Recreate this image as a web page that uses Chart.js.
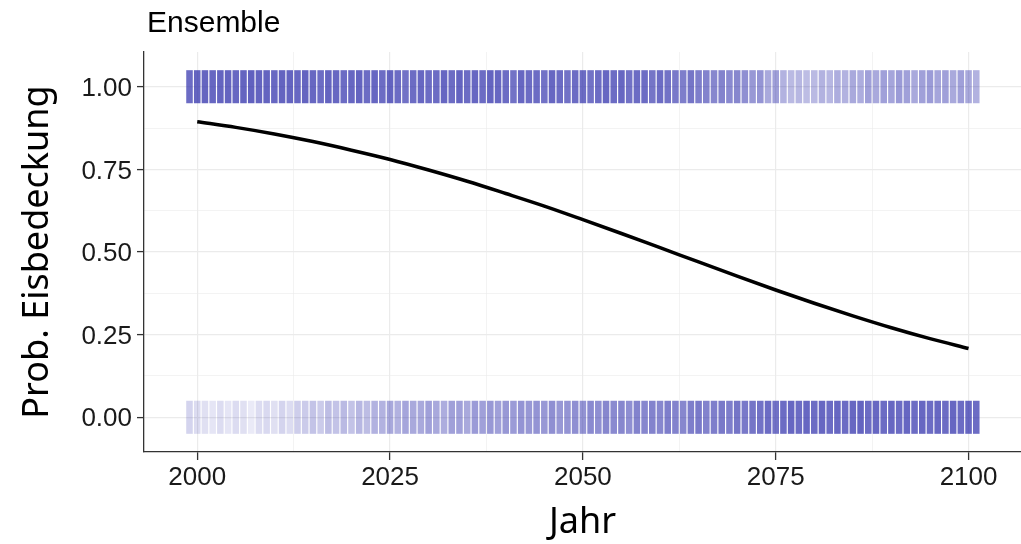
<!DOCTYPE html>
<html><head><meta charset="utf-8">
<script src="https://cdn.jsdelivr.net/npm/chart.js@4.4.1/dist/chart.umd.min.js"></script>
<style>html,body{margin:0;padding:0;background:#fff}</style>
</head><body>
<canvas id="c" width="1021" height="544"></canvas>
<script>
// ---- data ----
const years = [1999,2000,2001,2002,2003,2004,2005,2006,2007,2008,2009,2010,2011,2012,2013,2014,2015,2016,2017,2018,
2019,2020,2021,2022,2023,2024,2025,2026,2027,2028,2029,2030,2031,2032,2033,2034,2035,2036,2037,2038,
2039,2040,2041,2042,2043,2044,2045,2046,2047,2048,2049,2050,2051,2052,2053,2054,2055,2056,2057,2058,
2059,2060,2061,2062,2063,2064,2065,2066,2067,2068,2069,2070,2071,2072,2073,2074,2075,2076,2077,2078,
2079,2080,2081,2082,2083,2084,2085,2086,2087,2088,2089,2090,2091,2092,2093,2094,2095,2096,2097,2098,
2099,2100,2101];
// relative density of ensemble points with ice cover (y = 1)
const iceDensity = [0.85,0.9,0.9,0.88,0.9, 0.9,0.88,0.9,0.92,0.9, 0.9,0.88,0.9,0.9,0.88, 0.9,0.88,0.85,0.9,0.88,
0.85,0.88,0.9,0.85,0.88, 0.85,0.9,0.85,0.82,0.85, 0.88,0.85,0.85,0.88,0.85, 0.9,0.85,0.88,0.85,0.9,
0.88,0.85,0.82,0.88,0.85, 0.85,0.82,0.88,0.85,0.82, 0.85,0.85,0.82,0.85,0.88, 0.85,0.88,0.82,0.85,0.85,
0.8,0.85,0.82,0.78,0.75, 0.8,0.75,0.72,0.7,0.72, 0.68,0.7,0.65,0.6,0.62, 0.5,0.55,0.45,0.4,0.42,
0.38,0.4,0.45,0.42,0.48, 0.45,0.5,0.48,0.55,0.5, 0.55,0.52,0.58,0.55,0.5, 0.55,0.58,0.52,0.55,0.5,
0.55,0.5,0.45];
// relative density of ensemble points without ice cover (y = 0)
const openDensity = [0.25,0.2,0.18,0.15,0.2, 0.15,0.2,0.18,0.12,0.2, 0.22,0.18,0.25,0.2,0.28, 0.3,0.35,0.3,0.38,0.35,
0.4,0.35,0.42,0.38,0.45, 0.45,0.5,0.45,0.52,0.5, 0.5,0.55,0.5,0.48,0.55, 0.55,0.5,0.58,0.55,0.6,
0.55,0.6,0.58,0.62,0.6, 0.62,0.6,0.65,0.6,0.62, 0.65,0.62,0.68,0.65,0.7, 0.68,0.7,0.65,0.72,0.7,
0.72,0.7,0.75,0.72,0.7, 0.75,0.78,0.72,0.75,0.78, 0.75,0.8,0.78,0.8,0.82, 0.85,0.82,0.85,0.88,0.85,
0.88,0.85,0.88,0.85,0.88, 0.85,0.88,0.9,0.85,0.88, 0.85,0.88,0.85,0.88,0.85, 0.88,0.85,0.88,0.85,0.88,
0.85,0.88,0.85];
// fitted probability of ice cover
const curveYears = [2000,2005,2010,2015,2020,2025,2030,2035,2040,2045,2050,2055,2060,2065,2070,2075,2080,2085,2090,2095,2100];
const curveProb  = [0.894,0.877,0.857,0.834,0.808,0.780,0.748,0.714,0.677,0.639,0.598,0.556,0.513,0.470,0.427,0.385,0.345,0.307,0.271,0.238,0.208];
const xGridTicks = [2000,2012.5,2025,2037.5,2050,2062.5,2075,2087.5,2100];
const yGridTicks = [0,0.125,0.25,0.375,0.5,0.625,0.75,0.875,1];
const xMajor = [2000,2025,2050,2075,2100];
const yMajor = [0,0.25,0.5,0.75,1];

// ---- chart ----
const HALF = 0.05;
const bandColor = d => `rgba(45,45,170,${(d*0.82).toFixed(3)})`;
const isMajorX = v => xMajor.includes(v);
const isMajorY = v => yMajor.some(m => Math.abs(m - v) < 1e-9);

const titlePlugin = {
  id: 'panelTitle',
  afterDraw(chart) {
    const ctx = chart.ctx;
    ctx.save();
    ctx.font = '30px "Liberation Sans", Arial, sans-serif';
    ctx.fillStyle = '#000';
    ctx.textBaseline = 'alphabetic';
    ctx.textAlign = 'left';
    ctx.fillText('Ensemble', chart.chartArea.left + 3, 32);
    ctx.restore();
  }
};

new Chart(document.getElementById('c'), {
  type: 'bar',
  data: {
    datasets: [
      {
        type: 'line',
        order: 0,
        data: curveYears.map((x, i) => ({x, y: curveProb[i]})),
        borderColor: '#000',
        borderWidth: 3.5,
        pointRadius: 0,
        tension: 0.4,
        cubicInterpolationMode: 'monotone',
        fill: false
      },
      {
        order: 1,
        grouped: false,
        data: years.map(x => ({x, y: [1 - HALF, 1 + HALF]})),
        backgroundColor: iceDensity.map(bandColor),
        borderWidth: 0,
        barPercentage: 0.85,
        categoryPercentage: 1
      },
      {
        order: 1,
        grouped: false,
        data: years.map(x => ({x, y: [0 - HALF, 0 + HALF]})),
        backgroundColor: openDensity.map(bandColor),
        borderWidth: 0,
        barPercentage: 0.85,
        categoryPercentage: 1
      }
    ]
  },
  options: {
    responsive: false,
    animation: false,
    devicePixelRatio: 1,
    layout: {padding: {top: 52, right: 0, left: 0, bottom: 0}},
    plugins: {legend: {display: false}, tooltip: {enabled: false}, title: {display: false}},
    scales: {
      x: {
        type: 'linear',
        min: 1993.1, max: 2106.8,
        offset: false,
        afterBuildTicks: s => { s.ticks = xGridTicks.map(v => ({value: v})); },
        afterFit: s => { s.height = 92; },
        ticks: {
          autoSkip: false, maxRotation: 0, padding: 2,
          color: '#1a1a1a',
          font: {family: '"Liberation Sans", Arial, sans-serif', size: 26},
          callback: v => isMajorX(v) ? String(v) : ''
        },
        grid: {
          offset: false,
          color: '#ebebeb',
          lineWidth: c => (c.tick && isMajorX(c.tick.value)) ? 1.2 : 0.6,
          tickColor: c => (c.tick && isMajorX(c.tick.value)) ? '#333' : 'rgba(0,0,0,0)',
          tickLength: 8,
          tickWidth: 1.3
        },
        border: {display: true, color: '#333', width: 1.3},
        title: {
          display: true, text: 'Jahr', color: '#000',
          font: {family: '"Noto Sans", sans-serif', size: 36},
          padding: {top: 0, bottom: 0}
        }
      },
      y: {
        type: 'linear',
        min: -0.105, max: 1.105,
        afterBuildTicks: s => { s.ticks = yGridTicks.map(v => ({value: v})); },
        afterFit: s => { s.width = 144; },
        ticks: {
          autoSkip: false, padding: 5, labelOffset: 2,
          color: '#1a1a1a',
          font: {family: '"Liberation Sans", Arial, sans-serif', size: 26},
          callback: v => isMajorY(v) ? v.toFixed(2) : ''
        },
        grid: {
          color: '#ebebeb',
          lineWidth: c => (c.tick && isMajorY(c.tick.value)) ? 1.2 : 0.6,
          tickColor: c => (c.tick && isMajorY(c.tick.value)) ? '#333' : 'rgba(0,0,0,0)',
          tickLength: 7,
          tickWidth: 1.3
        },
        border: {display: true, color: '#333', width: 1.3},
        title: {
          display: true, text: 'Prob. Eisbedeckung', color: '#000',
          font: {family: '"Noto Sans", sans-serif', size: 36},
          padding: {top: 16, bottom: 0}
        }
      }
    }
  },
  plugins: [titlePlugin]
});
</script>
</body></html>
